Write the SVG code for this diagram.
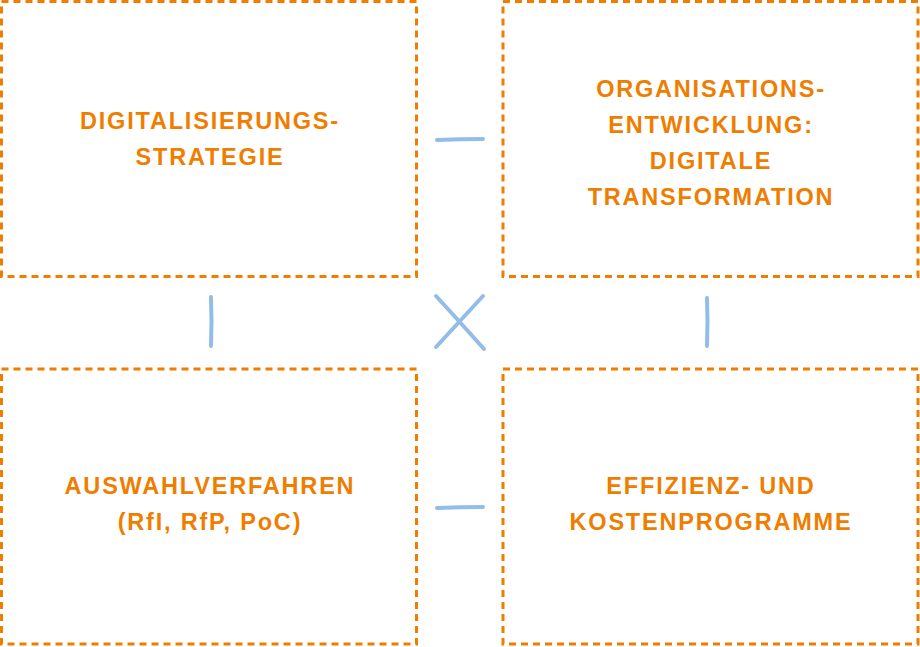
<svg xmlns="http://www.w3.org/2000/svg" width="920" height="647" viewBox="0 0 920 647">
<style>
.box{fill:none;stroke:#EF7D00;stroke-width:3;stroke-dasharray:7 5}
.t{font-family:"Liberation Sans",Arial,sans-serif;font-weight:bold;font-size:23.5px;fill:#EF7D00;letter-spacing:1.8px;text-anchor:middle}
.c{fill:none;stroke:#93BDE9;stroke-width:4;stroke-linecap:round}
</style>
<rect width="920" height="647" fill="#fff"/>
<g id="n1">
<rect class="box" x="1.5" y="1.5" width="415" height="275"/>
<text class="t"><tspan x="210" y="129">DIGITALISIERUNGS-</tspan><tspan x="210" y="165">STRATEGIE</tspan></text>
</g>
<g id="n2">
<rect class="box" x="503" y="1.5" width="415" height="275"/>
<text class="t"><tspan x="711" y="97">ORGANISATIONS-</tspan><tspan x="711" y="133">ENTWICKLUNG:</tspan><tspan x="711" y="169">DIGITALE</tspan><tspan x="711" y="205">TRANSFORMATION</tspan></text>
</g>
<g id="n3">
<rect class="box" x="1.5" y="369" width="415" height="275"/>
<text class="t"><tspan x="210" y="494">AUSWAHLVERFAHREN</tspan><tspan x="210" y="530">(RfI, RfP, PoC)</tspan></text>
</g>
<g id="n4">
<rect class="box" x="503" y="369" width="415" height="275"/>
<text class="t"><tspan x="711" y="494">EFFIZIENZ- UND</tspan><tspan x="711" y="530">KOSTENPROGRAMME</tspan></text>
</g>
<g id="connectors">
<path class="c" d="M437 140 Q460 139 483 139"/>
<path class="c" d="M437 508 Q460 507 483 507"/>
<path class="c" d="M211 297 Q212 322 211 346"/>
<path class="c" d="M707 298 Q708 322 707 346"/>
<path class="c" d="M436 296 Q460 322 484 349"/>
<path class="c" d="M483 296 Q459 322 436 347"/>
</g>
</svg>
